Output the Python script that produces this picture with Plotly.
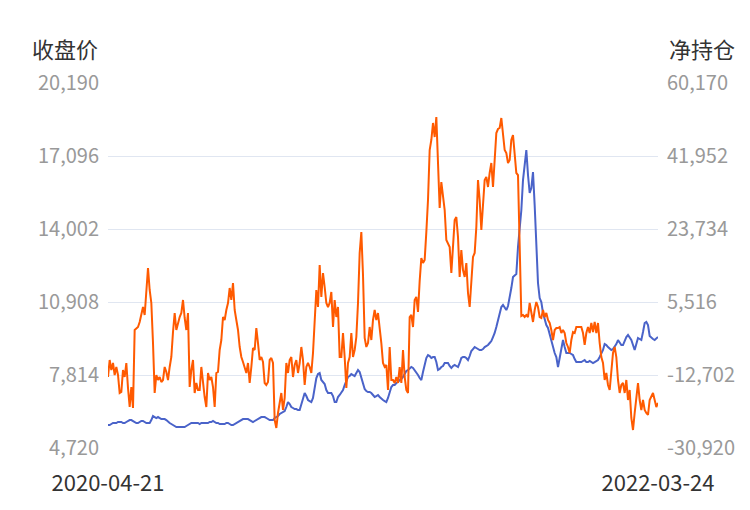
import pandas as pd
import plotly.graph_objects as go

# ---------------- data ----------------
start_date = "2020-04-21"
end_date = "2022-03-24"

close_price = [
    5695, 5695, 5737, 5779, 5779, 5779, 5822, 5822, 5822, 5779,
    5779, 5822, 5864, 5906, 5906, 5864, 5822, 5779, 5779, 5822,
    5864, 5864, 5822, 5779, 5779, 5779, 5906, 6076, 6033, 5991,
    6033, 5991, 5948, 5948, 5948, 5906, 5822, 5779, 5737, 5695,
    5652, 5610, 5610, 5610, 5610, 5610, 5610, 5652, 5695, 5737,
    5779, 5779, 5779, 5779, 5779, 5737, 5779, 5779, 5779, 5779,
    5779, 5822, 5822, 5864, 5822, 5779, 5779, 5737, 5737, 5737,
    5737, 5779, 5779, 5737, 5695, 5695, 5737, 5779, 5822, 5864,
    5906, 5948, 5948, 5948, 5948, 5906, 5864, 5822, 5864, 5906,
    5948, 5991, 6033, 6033, 6033, 5991, 5948, 5906, 5906, 5906,
    5991, 6033, 6076, 6161, 6203, 6245, 6288, 6457, 6669, 6584,
    6457, 6415, 6372, 6372, 6330, 6330, 6542, 6754, 7051, 6923,
    6754, 6711, 6669, 6839, 7262, 7686, 7856, 7898, 7602, 7517,
    7432, 7178, 7051, 7051, 7051, 6923, 6669, 6669, 6881, 6966,
    7051, 7178, 7390, 7602, 7729, 7771, 7856, 7813, 7771, 7898,
    8025, 7941, 7729, 7475, 7220, 7135, 7093, 7093, 7051, 6966,
    6881, 6923, 6966, 6881, 6796, 6754, 6711, 6669, 6839, 7135,
    7305, 7390, 7390, 7475, 7517, 7602, 7644, 7729, 7856, 7983,
    8025, 8110, 8153, 8110, 8025, 7941, 7813, 7686, 7602, 7941,
    8280, 8534, 8661, 8619, 8534, 8576, 8576, 8364, 8025, 8068,
    8153, 8195, 8322, 8322, 8322, 8195, 8110, 8195, 8237, 8195,
    8153, 8322, 8534, 8576, 8576, 8534, 8449, 8619, 8831, 8915,
    9000, 8958, 8915, 8873, 8873, 8915, 9000, 9043, 9085, 9170,
    9254, 9424, 9594, 9848, 10144, 10483, 10695, 10780, 10653, 10568,
    10738, 11077, 11500, 11967, 12052, 12094, 13238, 14001, 14797, 16078,
    16714, 17349, 16290, 15527, 15739, 16417, 15009, 13323, 11712, 11077,
    10907, 10441, 10144, 9932, 9806, 9509, 9212, 8958, 8746, 8576,
    8153, 8534, 8873, 9297, 9000, 8746, 8746, 8746, 8703, 8661,
    8491, 8364, 8364, 8364, 8364, 8407, 8449, 8364, 8364, 8407,
    8364, 8322, 8364, 8407, 8449, 8576, 8703, 8873, 9127, 9085,
    9000, 8915, 8873, 8915, 9000, 9127, 9297, 9212, 9085, 9085,
    9254, 9424, 9509, 9382, 9297, 9085, 8873, 9127, 9382, 9339,
    9297, 9636, 10017, 10060, 9932, 9466, 9382, 9339, 9297, 9382, 9424,
]

net_position = [
    -13200, -8960, -11450, -9710, -12700, -10700, -12700, -17190, -16940, -11450,
    -13200, -9710, -15950, -20690, -15700, -20940, -1470, -970, -720, 530,
    2770, 4270, 2270, 7760, 14000, 8510, 5270, -4720, -17190, -12700,
    -13950, -13200, -14450, -13950, -10700, -11950, -13950, -10700, -8210, -1970,
    2770, -1470, 530, 1770, 2770, 6020, 1520, -1470, 2770, -15700,
    -11450, -8960, -17190, -14700, -16440, -16440, -10700, -15200, -18190, -20690,
    -12200, -13950, -13200, -15700, -20690, -12200, -11950, -6460, -3970, 1770,
    1030, 3520, 5270, 9010, 6020, 10260, 3520, 1030, -1470, -5710,
    -8210, -9460, -10700, -12200, -9710, -14700, -10700, -5960, -6460, -970,
    -4720, -8960, -8210, -9460, -14700, -15200, -14450, -8960, -8460, -9710,
    -23930, -25930, -22180, -19690, -17190, -21440, -18440, -9710, -12200, -8960,
    -8210, -13200, -10210, -8960, -12200, -9710, -5710, -8960, -15200, -10700,
    -9710, -10700, -12200, -7210, 1770, 8510, 4270, 14750, 6770, 12750,
    9260, 5270, 4270, 5270, 8010, -720, 6020, 1770, 4270, -8210,
    -8210, -2220, -8210, -15950, -9710, -8210, -2220, -8210, -6460, -3220,
    5270, 17750, 22990, 12260, -3470, -5710, -4720, -720, -3970, 1030,
    3520, 1030, 2770, -720, -4720, -9710, -10700, -10210, -16440, -5710,
    -13950, -13950, -14700, -13200, -14700, -10700, -14700, -6460, -13200, -16440,
    -17190, 1770, 2270, -720, 6020, 6770, 3020, 10760, 16500, 15250,
    16000, 22990, 30970, 43450, 45950, 50190, 46690, 51690, 39210, 28980,
    35460, 31720, 28480, 20990, 20240, 19240, 12750, 20240, 25980, 26730,
    21740, 11760, 18490, 13500, 11760, 15250, 7760, 4270, 10260, 16750,
    17750, 24230, 35960, 30970, 23490, 30970, 35960, 36710, 34220, 37710,
    40210, 34220, 40210, 47690, 48690, 48940, 51440, 47690, 43450, 42700,
    40210, 40950, 45950, 47190, 42700, 37710, 37210, 16000, 2020, 2270,
    1770, 2270, 1770, 5270, 2770, 530, 3520, 5520, 4270, 1770,
    1520, 3520, 1770, 2770, 1030, 280, -1470, -3970, -1470, -970,
    -970, -720, -2220, -1470, -2220, -4720, -5710, -7210, -3970, -1970,
    -2220, -720, -720, -720, -720, -2220, -5210, -2220, -720, -2220,
    280, -1970, 530, -2220, 280, -4720, -8210, -9710, -13950, -12200,
    -15200, -16440, -12200, -7210, -5710, -8210, -13950, -17190, -15200, -14700,
    -17190, -13950, -18940, -16440, -23430, -26430, -22180, -18190, -14700, -18940,
    -21440, -18940, -21440, -22180, -22680, -18940, -18190, -17190, -18940, -20690, -19690,
]

left_tick_values = [4720, 7814, 10908, 14002, 17096, 20190]
left_tick_labels = ["4,720", "7,814", "10,908", "14,002", "17,096", "20,190"]
right_tick_values = [-30920, -12702, 5516, 23734, 41952, 60170]
right_tick_labels = ["-30,920", "-12,702", "5,516", "23,734", "41,952", "60,170"]
x_tick_labels = [start_date, end_date]

left_title = "收盘价"
right_title = "净持仓"

# x categories (dates)
dates = [d.strftime("%Y-%m-%d") for d in
         pd.date_range(start_date, end_date, periods=len(close_price))]

# ---------------- style ----------------
FONT = "Noto Sans CJK SC"
BLUE = "#4A63C9"
ORANGE = "#FF5A00"
GRID = "#E0E6F1"
TICK_GREY = "#999999"
DARK = "#333333"

fig = go.Figure()
fig.add_trace(go.Scatter(
    x=dates, y=close_price, name=left_title, mode="lines",
    line=dict(color=BLUE, width=2), yaxis="y"))
fig.add_trace(go.Scatter(
    x=dates, y=net_position, name=right_title, mode="lines",
    line=dict(color=ORANGE, width=2), yaxis="y2"))

# page body has an 8px margin, so the figure is offset by 8px
fig.update_layout(
    width=734, height=494,
    margin=dict(l=100, r=84, t=75, b=54, autoexpand=False),
    paper_bgcolor="white", plot_bgcolor="white",
    showlegend=False,
    font=dict(family=FONT),
    xaxis=dict(
        type="category",
        range=[0, len(dates) - 1],
        tickmode="array",
        tickvals=[dates[0], dates[-1]],
        ticktext=x_tick_labels,
        tickfont=dict(size=22, color=DARK, family=FONT),
        showgrid=False, zeroline=False, showline=False,
        ticks="", ticklabelstandoff=20, automargin=False,
    ),
    yaxis=dict(
        range=[left_tick_values[0], left_tick_values[-1]],
        tickmode="array",
        tickvals=left_tick_values,
        ticktext=left_tick_labels,
        tickfont=dict(size=20, color=TICK_GREY, family=FONT),
        showgrid=True, gridcolor=GRID, gridwidth=1,
        zeroline=False, showline=False, ticks="",
        ticklabelstandoff=8, automargin=False,
    ),
    yaxis2=dict(
        overlaying="y", side="right",
        range=[right_tick_values[0], right_tick_values[-1]],
        tickmode="array",
        tickvals=right_tick_values,
        ticktext=right_tick_labels,
        tickfont=dict(size=20, color=TICK_GREY, family=FONT),
        showgrid=False, zeroline=False, showline=False, ticks="",
        ticklabelstandoff=8, automargin=False,
    ),
    annotations=[
        dict(text=left_title, xref="paper", yref="paper",
             x=-0.0145, y=1.096, xanchor="right", yanchor="middle",
             showarrow=False, font=dict(size=22, color=DARK, family=FONT)),
        dict(text=right_title, xref="paper", yref="paper",
             x=1.0164, y=1.096, xanchor="left", yanchor="middle",
             showarrow=False, font=dict(size=22, color=DARK, family=FONT)),
    ],
)

fig.write_html("out.html", config={"displayModeBar": False})
